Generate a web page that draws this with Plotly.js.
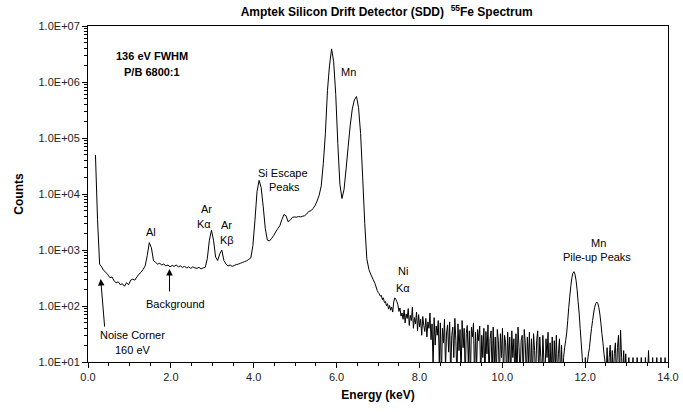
<!DOCTYPE html>
<html><head><meta charset="utf-8">
<script src="https://cdn.plot.ly/plotly-3.0.1.min.js"></script>
<style>html,body{margin:0;padding:0;background:#fff}#chart{width:683px;height:412px}</style>
</head><body><div id="chart"></div>
<script>
// Spectrum, in two parts: coarse channels up to 6.98 keV,
// finer channels for the noisy high-energy part.
const lowStart = 0.18;   // keV
const lowStep = 0.05;    // keV per point
const lowCounts = [
  50000, 3500, 560, 500, 430, 400, 360, 320, 330, 280,          // 0.18 - 0.63
  260, 270, 240, 250, 225, 260, 240, 290, 300, 290,             // 0.68 - 1.13
  330, 370, 400, 450, 520, 800, 1350, 1100, 650, 600,           // 1.18 - 1.63
  560, 580, 540, 560, 520, 540, 500, 530, 510, 540,             // 1.68 - 2.13
  500, 520, 490, 510, 480, 500, 470, 500, 480, 470,             // 2.18 - 2.63
  490, 460, 480, 490, 700, 1500, 2250, 1500, 750, 650,          // 2.68 - 3.13
  850, 1000, 650, 560, 520, 540, 510, 530, 550, 560,            // 3.18 - 3.63
  580, 600, 620, 640, 680, 720, 1200, 3400, 11000, 17500,       // 3.68 - 4.13
  13000, 5900, 2400, 1500, 1450, 1600, 1800, 2100, 2400, 2700,  // 4.18 - 4.63
  3500, 4300, 4100, 3200, 3400, 3800, 3900, 3850, 3950, 3900,   // 4.68 - 5.13
  4000, 4100, 4400, 4900, 5000, 5500, 6200, 7500, 9500, 14000,  // 5.18 - 5.63
  35000, 120000, 700000, 2000000, 3900000, 2300000, 600000, 80000, 15000, 8300, // 5.68 - 6.13
  12000, 28000, 70000, 170000, 330000, 480000, 550000, 350000, 120000, 20000,   // 6.18 - 6.63
  3000, 700, 450, 360, 300, 250, 190                            // 6.68 - 6.98
];
const highStart = 6.98;  // keV
const highStep = 0.025;  // keV per point
const highCounts = [
  190, 175, 165, 150, 155, 130, 140, 115, 120, 100,   // 6.98
  110, 88, 102, 84, 96, 78, 118, 140, 132, 120,       // 7.23
  105, 80, 92, 66, 75, 58, 85, 50, 72, 60,            // 7.48
  90, 45, 68, 55, 95, 40, 62, 48, 78, 36,             // 7.73
  70, 42, 58, 30, 65, 45, 35, 60, 28, 52,             // 7.98
  40, 75, 25, 48, 8, 62, 20, 44, 30, 55,              // 8.23
  10, 50, 5, 40, 22, 58, 8, 33, 46, 15,               // 8.48
  52, 5, 30, 42, 12, 60, 24, 5, 48, 16,               // 8.73
  38, 5, 55, 18, 40, 5, 32, 45, 10, 36,               // 8.98
  5, 42, 28, 50, 5, 34, 8, 38, 24, 44,                // 9.23
  5, 30, 12, 40, 5, 35, 14, 46, 5, 26,                // 9.48
  36, 5, 42, 8, 28, 5, 38, 24, 5, 32,                 // 9.73
  12, 40, 5, 30, 22, 5, 34, 10, 28, 5,                // 9.98
  36, 12, 26, 5, 32, 5, 42, 18, 5, 24,                // 10.23
  30, 5, 38, 22, 5, 28, 10, 34, 5, 26,                // 10.48
  5, 32, 16, 5, 24, 36, 5, 28, 12, 5,                 // 10.73
  30, 10, 5, 26, 12, 34, 5, 22, 5, 28,                // 10.98
  5, 24, 8, 30, 5, 14, 26, 5, 20, 5,                  // 11.23
  12, 18, 24, 33, 55, 95, 150, 230, 320, 385,         // 11.48
  410, 370, 290, 200, 120, 75, 40, 22, 12, 6,         // 11.73
  5, 12, 5, 10, 14, 18, 28, 40, 55, 75,               // 11.98
  95, 110, 118, 112, 95, 72, 50, 32, 22, 14,          // 12.23
  10, 5, 18, 5, 12, 20, 5, 16, 5, 14,                 // 12.48
  22, 5, 18, 30, 5, 37, 12, 5, 16, 5,                 // 12.73
  14, 5, 5, 12, 5, 5, 5, 12, 5, 5,                    // 12.98
  5, 12, 5, 5, 5, 12, 5, 5, 5, 12,                    // 13.23
  5, 5, 16, 5, 5, 5, 12, 5, 5, 5,                     // 13.48
  12, 5, 5, 5, 12, 5, 5, 5, 12, 5,                    // 13.73
  5                                                   // 13.98
];
const yTickVals = [1e1, 1e2, 1e3, 1e4, 1e5, 1e6, 1e7];
const yTickText = ['1.0E+01', '1.0E+02', '1.0E+03', '1.0E+04', '1.0E+05', '1.0E+06', '1.0E+07'];
const yMinorTicks = [
  20, 30, 40, 50, 60, 70, 80, 90,
  200, 300, 400, 500, 600, 700, 800, 900,
  2000, 3000, 4000, 5000, 6000, 7000, 8000, 9000,
  20000, 30000, 40000, 50000, 60000, 70000, 80000, 90000,
  200000, 300000, 400000, 500000, 600000, 700000, 800000, 900000,
  2000000, 3000000, 4000000, 5000000, 6000000, 7000000, 8000000, 9000000
];

const FONT = 'Liberation Sans, Arial, Helvetica, sans-serif';

function lbl(text, x, y, bold) {
  return {text: bold ? '<b>' + text + '</b>' : text, x: x, y: y, xref: 'x', yref: 'y',
    showarrow: false, font: {family: FONT, size: 11, color: '#000'}};
}
function arrow(x, y, ax, ay) {
  return {text: '', x: x, y: y, xref: 'x', yref: 'y', showarrow: true, ax: ax, ay: ay,
    arrowhead: 2, arrowsize: 1.3, arrowwidth: 1, arrowcolor: '#000', standoff: 0, startstandoff: 0};
}

const lineStyle = {color: '#000', width: 1, simplify: false};
const traces = [
  {type: 'scatter', mode: 'lines', x0: lowStart, dx: lowStep, y: lowCounts, line: lineStyle},
  {type: 'scatter', mode: 'lines', x0: highStart, dx: highStep, y: highCounts, line: lineStyle}
];

const layout = {
  width: 683, height: 412,
  margin: {l: 88, r: 15, t: 26, b: 50},
  paper_bgcolor: '#fff', plot_bgcolor: '#fff',
  showlegend: false,
  font: {family: FONT, size: 11, color: '#222'},
  title: {text: '<b>Amptek Silicon Drift Detector (SDD)  <sup>55</sup>Fe Spectrum</b>',
    font: {family: FONT, size: 12, color: '#000'}, x: 0.515, xref: 'paper', xanchor: 'center',
    y: 0.972, yref: 'container', yanchor: 'middle'},
  xaxis: {range: [0, 14], dtick: 2, tick0: 0, tickformat: '.1f',
    showline: true, mirror: true, linecolor: '#000', linewidth: 1,
    ticks: 'outside', ticklen: 5, tickcolor: '#000',
    minor: {dtick: 0.5, tick0: 0, ticks: 'outside', ticklen: 3, tickcolor: '#000', showgrid: false},
    showgrid: false, zeroline: false,
    tickfont: {family: FONT, size: 11, color: '#222'},
    title: {text: '<b>Energy (keV)</b>', font: {family: FONT, size: 12, color: '#000'}, standoff: 8}},
  yaxis: {type: 'log', range: [1, 7], tickmode: 'array', tickvals: yTickVals, ticktext: yTickText,
    showline: true, mirror: true, linecolor: '#000', linewidth: 1,
    ticks: 'outside', ticklen: 5, tickcolor: '#000',
    minor: {tickmode: 'array', tickvals: yMinorTicks, ticks: 'outside', ticklen: 3, tickcolor: '#000', showgrid: false},
    showgrid: false, zeroline: false,
    tickfont: {family: FONT, size: 11, color: '#222'},
    title: {text: '<b>Counts</b>', font: {family: FONT, size: 12, color: '#000'}, standoff: 12}},
  annotations: [
    lbl('136 eV FWHM', 1.545, 6.47, true),
    lbl('P/B 6800:1', 1.545, 6.17, true),
    lbl('Al', 1.52, 3.32),
    lbl('Ar', 2.85, 3.74),
    lbl('K\u03b1', 2.80, 3.47),
    lbl('Ar', 3.35, 3.44),
    lbl('K\u03b2', 3.35, 3.17),
    lbl('Si Escape', 4.71, 4.37),
    lbl('Peaks', 4.74, 4.12),
    lbl('Mn', 6.28, 6.17),
    lbl('Ni', 7.61, 2.63),
    lbl('K\u03b1', 7.61, 2.33),
    lbl('Mn', 12.32, 3.13),
    lbl('Pile-up Peaks', 12.28, 2.87),
    lbl('Background', 2.10, 2.03),
    lbl('Noise Corner', 1.086, 1.48),
    lbl('160 eV', 1.086, 1.21),
    arrow(1.967, 2.66, 0, 24),
    arrow(0.307, 2.48, 4, 49)
  ]
};

Plotly.newPlot('chart', traces, layout, {displayModeBar: false, staticPlot: true});
</script>
</body></html>
